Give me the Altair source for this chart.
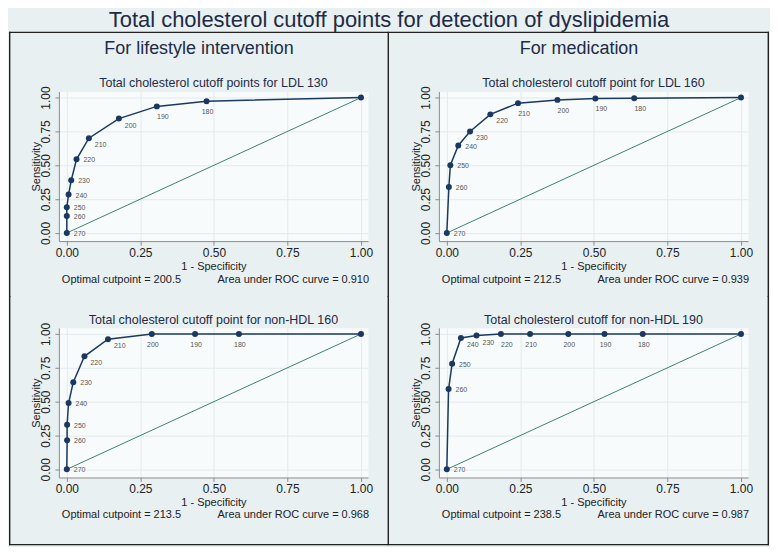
import altair as alt
import pandas as pd

# ---------------- data ----------------
cutoffs = [270, 260, 250, 240, 230, 220, 210, 200, 190, 180]

fpr_ldl130 = [0.0, 0.0, 0.0, 0.006, 0.015, 0.033, 0.075, 0.177, 0.306, 0.475]
tpr_ldl130 = [0.0, 0.125, 0.19, 0.284, 0.389, 0.544, 0.70, 0.845, 0.935, 0.973]

fpr_ldl160 = [0.0, 0.007, 0.012, 0.039, 0.079, 0.148, 0.242, 0.376, 0.505, 0.637]
tpr_ldl160 = [0.0, 0.34, 0.50, 0.646, 0.75, 0.876, 0.959, 0.983, 0.993, 0.995]

fpr_nhdl160 = [0.0, 0.001, 0.001, 0.006, 0.022, 0.06, 0.14, 0.289, 0.436, 0.585]
tpr_nhdl160 = [0.0, 0.215, 0.33, 0.49, 0.644, 0.835, 0.961, 1.0, 1.0, 1.0]

fpr_nhdl190 = [0.0, 0.006, 0.018, 0.048, 0.101, 0.184, 0.283, 0.413, 0.536, 0.666]
tpr_nhdl190 = [0.0, 0.593, 0.78, 0.971, 0.988, 1.0, 1.0, 1.0, 1.0, 1.0]

# label clock positions (style)
pos_ldl130 = [3, 3, 3, 3, 3, 3, 4, 4, 5, 6]
pos_ldl160 = [3, 3, 3, 3, 4, 4, 5, 5, 5, 5]
pos_nhdl160 = [3, 3, 3, 3, 3, 4, 4, 6, 6, 6]
pos_nhdl190 = [3, 3, 3, 4, 4, 5, 6, 6, 6, 6]

panel_titles = [
    "Total cholesterol cutoff points for LDL 130",
    "Total cholesterol cutoff point for LDL 160",
    "Total cholesterol cutoff point for non-HDL 160",
    "Total cholesterol cutoff for non-HDL 190",
]
column_headers = ["For lifestyle intervention", "For medication"]
optimal_cut = [200.5, 212.5, 213.5, 238.5]
auc_values = [0.910, 0.939, 0.968, 0.987]
diag_x = [0.0, 1.0]
diag_y = [0.0, 1.0]

main_title = "Total cholesterol cutoff points for detection of dyslipidemia"

# ---------------- style ----------------
FONT = "Liberation Sans"
NAVY = "#1a3860"
GREEN = "#3f8272"
INK = "#1e2b45"
FRAME = "#222222"
LW = 1.4
W, H = 310, 150
CELL_W = 381
LEFT_OFF = 50
TOP_Y0, TOP_Y1 = -60, 206
BOT_Y0, BOT_Y1 = -32, 218

xs = alt.Scale(domain=[-0.027, 1.024], nice=False, zero=False)
ys = alt.Scale(domain=[-0.06, 1.045], nice=False, zero=False)
ticks = [0, 0.25, 0.5, 0.75, 1.0]

xaxis = alt.Axis(values=ticks, format=".2f", title="1 - Specificity", tickSize=4,
                 labelPadding=2, titlePadding=2, titleFontSize=11)
yaxis = alt.Axis(values=ticks, format=".2f", title="Sensitivity", tickSize=4,
                 labelPadding=2, labelAngle=-90, labelAlign="center",
                 labelBaseline="bottom", titlePadding=-2, titleFontSize=11)

label_styles = {
    3: dict(align="left", dx=7, dy=1),
    4: dict(align="left", dx=6, dy=7),
    5: dict(align="center", dx=6, dy=11),
    6: dict(align="center", dx=1, dy=11),
}


def bar(one, xa, xb, ya, yb):
    return alt.Chart(one).mark_rect(color=FRAME, opacity=1).encode(
        x=alt.value(xa), x2=alt.value(xb), y=alt.value(ya), y2=alt.value(yb))


def panel(idx, fpr, tpr, pos, header, top, left):
    df = pd.DataFrame({
        "fpr": fpr + [1.0],
        "tpr": tpr + [1.0],
        "lab": [str(c) for c in cutoffs] + [""],
        "pos": pos + [0],
        "ord": list(range(len(fpr) + 1)),
    })
    diag = pd.DataFrame({"fpr": diag_x, "tpr": diag_y})
    one = pd.DataFrame({
        "left": [f"Optimal cutpoint = {optimal_cut[idx]}"],
        "right": [f"Area under ROC curve = {auc_values[idx]:.3f}"],
        "title": [panel_titles[idx]],
        "header": [header],
    })

    X = alt.X("fpr:Q", scale=xs, axis=xaxis)
    Y = alt.Y("tpr:Q", scale=ys, axis=yaxis)

    y0, y1 = (TOP_Y0, TOP_Y1) if top else (BOT_Y0, BOT_Y1)
    x0, x1 = -LEFT_OFF, CELL_W - LEFT_OFF

    layers = []
    # invisible cell box (defines vertical bounds)
    layers.append(alt.Chart(one).mark_rect(opacity=0).encode(
        x=alt.value(x0), x2=alt.value(x1), y=alt.value(y0), y2=alt.value(y1)))
    # frame lines drawn as thin filled rects
    if top:
        layers.append(bar(one, x0, x1, y0, y0 + LW))
    else:
        layers.append(bar(one, x0, x1, y1 - LW, y1))
    if left:
        layers.append(bar(one, x0, x0 + LW, y0, y1))
        layers.append(bar(one, x1 - LW, x1, y0, y1))
    else:
        layers.append(bar(one, x1 - LW, x1, y0, y1))

    # headers and titles
    if top:
        layers.append(alt.Chart(one).mark_text(fontSize=18, color=INK, font=FONT,
                                               align="center", baseline="middle").encode(
            x=alt.value(x0 + CELL_W / 2), y=alt.value(-43), text="header:N"))
    layers.append(alt.Chart(one).mark_text(fontSize=12.5, color=INK, font=FONT,
                                           align="center", baseline="middle").encode(
        x=alt.value(W / 2), y=alt.value(-9 if top else -8), text="title:N"))

    layers.append(alt.Chart(diag).mark_line(color=GREEN, strokeWidth=1).encode(x=X, y=Y))
    layers.append(alt.Chart(df).mark_line(color=NAVY, strokeWidth=1.5).encode(
        x=X, y=Y, order="ord:Q"))
    layers.append(alt.Chart(df).mark_circle(color=NAVY, opacity=1, size=36).encode(x=X, y=Y))
    for p, st in label_styles.items():
        layers.append(alt.Chart(df).transform_filter(alt.datum.pos == p).mark_text(
            fontSize=7, color="#555555", baseline="middle", font=FONT, **st
        ).encode(x=X, y=Y, text="lab:N"))

    fy = H + 39 if top else H + 38
    layers.append(alt.Chart(one).mark_text(align="left", baseline="middle", fontSize=11,
                                           color="#222222", font=FONT).encode(
        x=alt.value(3), y=alt.value(fy), text="left:N"))
    layers.append(alt.Chart(one).mark_text(align="right", baseline="middle", fontSize=11,
                                           color="#222222", font=FONT).encode(
        x=alt.value(W + 1), y=alt.value(fy), text="right:N"))

    return alt.layer(*layers).properties(width=W, height=H)


p1 = panel(0, fpr_ldl130, tpr_ldl130, pos_ldl130, column_headers[0], True, True)
p2 = panel(1, fpr_ldl160, tpr_ldl160, pos_ldl160, column_headers[1], True, False)
p3 = panel(2, fpr_nhdl160, tpr_nhdl160, pos_nhdl160, "", False, True)
p4 = panel(3, fpr_nhdl190, tpr_nhdl190, pos_nhdl190, "", False, False)

H_SP = CELL_W - W   # right margin of left cell + left margin of right cell

chart = alt.vconcat(
    alt.hconcat(p1, p2, spacing=H_SP, bounds="flush"),
    alt.hconcat(p3, p4, spacing=H_SP, bounds="flush"),
    spacing=-3,
).properties(
    title=alt.TitleParams(text=main_title, fontSize=22, font=FONT, color=INK,
                          anchor="middle", offset=-1, fontWeight="normal"),
    padding={"left": 0, "top": 0, "right": 0, "bottom": 0},
).configure(
    background="#e8f0f2", font=FONT
).configure_view(
    fill="#f8fbfb", stroke="transparent"
).configure_axis(
    domainColor="#8c8c8c", tickColor="#8c8c8c", labelColor="#222222",
    titleColor="#222222", gridColor="#e2eaec", labelFontSize=12, titleFontSize=11,
    titleFontWeight="normal", labelFont=FONT, titleFont=FONT
)

chart.save("out.html", embed_options={"renderer": "svg", "actions": False})
